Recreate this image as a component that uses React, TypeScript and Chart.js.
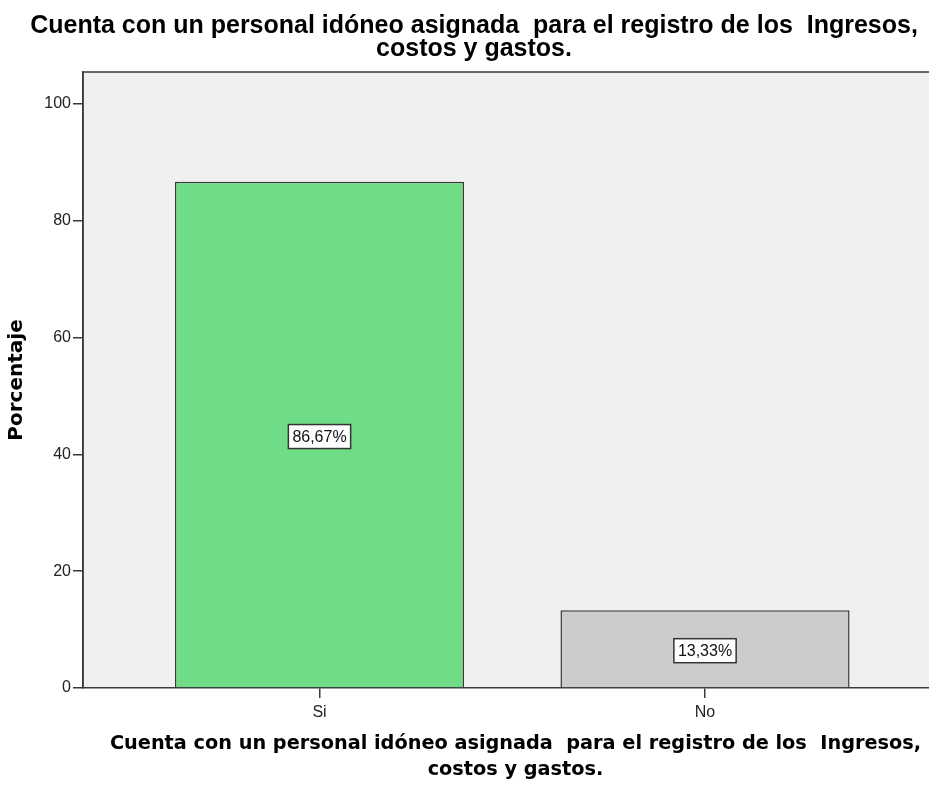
import React, { useEffect, useRef } from "react";
import { Chart, registerables } from "chart.js";

Chart.register(...registerables);

const titleLines = [
  "Cuenta con un personal idóneo asignada  para el registro de los  Ingresos,",
  "costos y gastos.",
];
const categories = ["Si", "No"];
const percentages = [86.67, 13.33];
const barColors = ["#71DC86", "#CCCCCC"];
const yTicks = [0, 20, 40, 60, 80, 100];
const yAxisTitle = "Porcentaje";

const CANVAS_W = 952;
const CANVAS_H = 786;

const fmtPct = (v: number) => v.toFixed(2).replace(".", ",") + "%";

const plotBg = {
  id: "plotBg",
  beforeDraw(chart: any) {
    const { ctx, chartArea } = chart;
    ctx.save();
    ctx.fillStyle = "#F0F0F0";
    ctx.fillRect(chartArea.left, chartArea.top, chartArea.right - chartArea.left, chartArea.bottom - chartArea.top);
    ctx.restore();
  },
  afterDraw(chart: any) {
    const { ctx, chartArea } = chart;
    ctx.save();
    ctx.strokeStyle = "#3a3a3a";
    ctx.lineWidth = 1.5;
    ctx.beginPath();
    ctx.moveTo(chartArea.left, chartArea.bottom);
    ctx.lineTo(chartArea.left, chartArea.top);
    ctx.lineTo(chartArea.right, chartArea.top);
    ctx.lineTo(chartArea.right, chartArea.bottom);
    ctx.stroke();
    ctx.restore();
  },
};

const boxLabels = {
  id: "boxLabels",
  afterDatasetsDraw(chart: any) {
    const { ctx } = chart;
    const meta = chart.getDatasetMeta(0);
    ctx.save();
    ctx.font = '16px "Liberation Sans", Arial, sans-serif';
    ctx.textAlign = "center";
    ctx.textBaseline = "middle";
    meta.data.forEach((bar: any, i: number) => {
      const { x, y, base } = bar.getProps(["x", "y", "base"], true);
      const cy = (y + base) / 2 + 2;
      const text = fmtPct(percentages[i]);
      const w = ctx.measureText(text).width + 8;
      const h = 24;
      ctx.fillStyle = "#FFFFFF";
      ctx.fillRect(x - w / 2, cy - h / 2, w, h);
      ctx.strokeStyle = "#333333";
      ctx.lineWidth = 1.5;
      ctx.strokeRect(x - w / 2, cy - h / 2, w, h);
      ctx.fillStyle = "#111111";
      ctx.fillText(text, x, cy + 1);
    });
    ctx.restore();
  },
};

export default function App() {
  const ref = useRef<HTMLCanvasElement | null>(null);

  useEffect(() => {
    if (!ref.current) return;
    const chart = new Chart(ref.current, {
      type: "bar",
      data: {
        datasets: [
          {
            data: categories.map((_, i) => ({ x: i, y: percentages[i] })),
            backgroundColor: barColors,
            borderColor: "#3a3a3a",
            borderWidth: 1.5,
            categoryPercentage: 1,
            barPercentage: 0.75,
          },
        ],
      },
      options: {
        responsive: false,
        animation: false,
        layout: { padding: { left: 0, right: 4, top: 0, bottom: 0 } },
        plugins: {
          legend: { display: false },
          tooltip: { enabled: false },
          title: {
            display: true,
            text: titleLines,
            color: "#000",
            font: { family: '"Liberation Sans", Arial, sans-serif', size: 25, weight: "bold", lineHeight: 0.92 },
            padding: { top: 15, bottom: 11 },
          },
        },
        scales: {
          x: {
            type: "linear",
            offset: false,
            min: -0.6135,
            max: 1.6303,
            afterFit(scale: any) {
              scale.height = CANVAS_H - 688;
            },
            afterBuildTicks(scale: any) {
              scale.ticks = categories.map((_, i) => ({ value: i }));
            },
            ticks: {
              autoSkip: false,
              maxRotation: 0,
              padding: 5,
              color: "#222",
              font: { family: '"Liberation Sans", Arial, sans-serif', size: 16 },
              callback: (v: any) => categories[v as number] ?? "",
            },
            grid: { display: true, offset: false, drawOnChartArea: false, drawTicks: true, tickLength: 10, color: "#3a3a3a", lineWidth: 1.5 },
            border: { display: true, color: "#3a3a3a", width: 1.5 },
            title: {
              display: true,
              text: titleLines,
              color: "#000",
              font: { family: '"DejaVu Sans", Verdana, sans-serif', size: 19.3, weight: "bold", lineHeight: 1.36 },
              padding: { top: 0, bottom: 3 },
            },
          },
          y: {
            min: 0,
            max: 105.48,
            afterFit(scale: any) {
              scale.width = 83;
            },
            afterBuildTicks(scale: any) {
              scale.ticks = yTicks.map((v) => ({ value: v }));
            },
            ticks: {
              padding: 2,
              color: "#222",
              font: { family: '"Liberation Sans", Arial, sans-serif', size: 16 },
            },
            grid: { display: true, drawOnChartArea: false, drawTicks: true, tickLength: 10, color: "#3a3a3a", lineWidth: 1.5 },
            border: { display: true, color: "#3a3a3a", width: 1.5 },
            title: {
              display: true,
              text: yAxisTitle,
              color: "#000",
              font: { family: '"DejaVu Sans", Verdana, sans-serif', size: 20, weight: "bold", lineHeight: 1.2 },
              padding: { top: 5, bottom: 0 },
            },
          },
        },
      },
      plugins: [plotBg, boxLabels],
    } as any);
    return () => chart.destroy();
  }, []);

  return (
    <div style={{ position: "fixed", left: 0, top: 0, width: 929, height: 786, overflow: "hidden", background: "#fff" }}>
      <canvas ref={ref} width={CANVAS_W} height={CANVAS_H} style={{ display: "block", width: CANVAS_W, height: CANVAS_H }} />
    </div>
  );
}
